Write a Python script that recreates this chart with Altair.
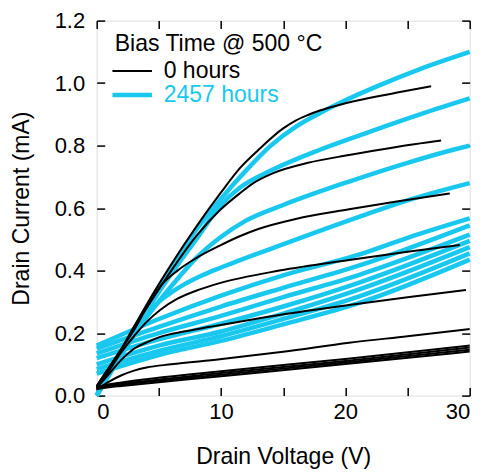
import altair as alt
import pandas as pd

# ---------------- data ----------------
series_names = ["0 hours", "2457 hours"]
series_colors = ["#000000", "#19c8ee"]

# 0 hours (black)
k1_v = [0, 1, 2, 3, 4, 6, 8, 10, 11.5, 13, 15, 16, 17, 18, 19.5, 22, 24.5, 26.9]
k1_i = [0.03, 0.09, 0.15, 0.22, 0.29, 0.42, 0.54, 0.65, 0.727, 0.786, 0.855, 0.88, 0.898, 0.913, 0.93, 0.953, 0.972, 0.99]
k2_v = [0, 1, 2, 3, 4, 6, 8, 9.9, 11.5, 12.6, 14.2, 17, 20.3, 24, 27.7]
k2_i = [0.03, 0.09, 0.15, 0.22, 0.28, 0.40, 0.51, 0.593, 0.647, 0.68, 0.712, 0.745, 0.77, 0.795, 0.816]
k3_v = [0, 1, 2, 3, 4, 5.1, 6.5, 8, 9.9, 11.5, 13, 16, 20.3, 24, 28.4]
k3_i = [0.03, 0.09, 0.15, 0.21, 0.28, 0.349, 0.40, 0.44, 0.48, 0.51, 0.533, 0.565, 0.596, 0.62, 0.647]
k4_v = [0, 1, 2, 3, 4, 5.1, 6.5, 8.3, 9.9, 14.7, 20.3, 25, 29.2]
k4_i = [0.025, 0.08, 0.14, 0.19, 0.235, 0.274, 0.31, 0.34, 0.36, 0.40, 0.434, 0.46, 0.482]
k5_v = [0, 1, 2, 3, 4, 5.1, 7, 9.1, 14.7, 20.3, 25, 29.7]
k5_i = [0.025, 0.07, 0.115, 0.15, 0.17, 0.188, 0.205, 0.22, 0.258, 0.29, 0.315, 0.338]
k6_v = [0, 1, 2, 3, 4, 6, 9.9, 15, 20.3, 25, 30]
k6_i = [0.02, 0.045, 0.065, 0.08, 0.09, 0.10, 0.116, 0.14, 0.169, 0.19, 0.213]
k7_v = [0, 1, 2, 10, 20, 30]
k7_i = [0.026, 0.036, 0.042, 0.078, 0.117, 0.160]
k8_v = [0, 1, 2, 10, 20, 30]
k8_i = [0.025, 0.033, 0.038, 0.072, 0.111, 0.154]
k9_v = [0, 1, 2, 10, 20, 30]
k9_i = [0.023, 0.030, 0.035, 0.067, 0.106, 0.147]
k10_v = [0, 1, 2, 10, 20, 30]
k10_i = [0.021, 0.027, 0.031, 0.062, 0.101, 0.141]

# 2457 hours (cyan)
c1_v = [0, 2, 4, 6, 8, 10, 12, 14, 16, 18, 20, 22.2, 26, 30]
c1_i = [0.0, 0.14, 0.28, 0.41, 0.53, 0.63, 0.72, 0.80, 0.86, 0.905, 0.945, 0.984, 1.045, 1.10]
c2_v = [0, 2, 4, 6, 8, 10, 11.5, 14, 17.9, 22, 26, 30]
c2_i = [0.0, 0.14, 0.27, 0.39, 0.50, 0.61, 0.665, 0.72, 0.786, 0.845, 0.90, 0.951]
c3_v = [0, 2, 4, 6, 8, 9.9, 12, 15, 20.3, 25, 28.6, 30]
c3_i = [0.0, 0.13, 0.25, 0.35, 0.44, 0.505, 0.56, 0.61, 0.685, 0.745, 0.786, 0.80]
c4_v = [0, 1, 2, 3, 4, 5, 6, 7, 8.5, 10, 14.7, 21.1, 25, 30]
c4_i = [0.0, 0.075, 0.145, 0.21, 0.26, 0.30, 0.33, 0.355, 0.385, 0.41, 0.48, 0.572, 0.625, 0.68]
c5_v = [0, 5, 10, 15, 21, 25, 30]
c5_i = [0.16, 0.245, 0.32, 0.385, 0.45, 0.505, 0.567]
c6_v = [0, 5, 10, 15, 21, 30]
c6_i = [0.15, 0.22, 0.285, 0.345, 0.415, 0.545]
c7_v = [0, 5, 10, 15, 21, 30]
c7_i = [0.135, 0.20, 0.255, 0.315, 0.385, 0.515]
c8_v = [0, 5, 10, 15, 21, 30]
c8_i = [0.12, 0.18, 0.23, 0.285, 0.36, 0.495]
c9_v = [0, 5, 10, 15, 21, 30]
c9_i = [0.10, 0.16, 0.205, 0.262, 0.338, 0.475]
c10_v = [0, 5, 10, 15, 21, 30]
c10_i = [0.085, 0.143, 0.19, 0.245, 0.316, 0.455]
c11_v = [0, 5, 10, 15, 21, 30]
c11_i = [0.07, 0.13, 0.175, 0.228, 0.295, 0.435]

x_ticks = [0, 5, 10, 15, 20, 25, 30]
y_ticks = [0.0, 0.2, 0.4, 0.6, 0.8, 1.0, 1.2]

black_curves = [(k1_v, k1_i), (k2_v, k2_i), (k3_v, k3_i), (k4_v, k4_i), (k5_v, k5_i),
                (k6_v, k6_i), (k7_v, k7_i), (k8_v, k8_i), (k9_v, k9_i), (k10_v, k10_i)]
cyan_curves = [(c1_v, c1_i), (c2_v, c2_i), (c3_v, c3_i), (c4_v, c4_i), (c5_v, c5_i),
               (c6_v, c6_i), (c7_v, c7_i), (c8_v, c8_i), (c9_v, c9_i), (c10_v, c10_i),
               (c11_v, c11_i)]


def build(curves, name, prefix):
    rows = []
    for n, (vs, cs) in enumerate(curves):
        for k, (v, c) in enumerate(zip(vs, cs)):
            rows.append({"V": v, "I": c, "series": name, "curve": f"{prefix}{n}", "k": k})
    return pd.DataFrame(rows)


df_black = build(black_curves, series_names[0], "k")
df_cyan = build(cyan_curves, series_names[1], "c")

FONT = "Liberation Sans"

color_scale = alt.Scale(domain=series_names, range=series_colors)

x_scale = alt.Scale(domain=[0, 30], nice=False, zero=False)
y_scale = alt.Scale(domain=[0, 1.2], nice=False, zero=False)

legend = alt.Legend(
    orient="none", legendX=18, legendY=12,
    title="Bias Time @ 500 °C", titleFontSize=23, titleFontWeight="normal",
    titleColor="black", titleFont=FONT, titlePadding=4, titleLimit=500,
    labelFont=FONT, labelFontSize=23, labelOffset=20, labelLimit=500,
    labelColor={"expr": "datum.label == '0 hours' ? '#000000' : '#19c8ee'"},
    symbolType="stroke", symbolSize=1560, symbolOffset=6,
    symbolStrokeWidth={"expr": "datum.label == '0 hours' ? 2 : 4.5"},
    rowPadding=-3, padding=0,
)

cyan_layer = alt.Chart(df_cyan).mark_line(strokeWidth=4.5, strokeCap="butt", strokeJoin="round",
                                          interpolate="monotone").encode(
    x=alt.X("V:Q", scale=x_scale,
            axis=alt.Axis(title="Drain Voltage (V)", orient="bottom", values=x_ticks,
                          labelExpr="datum.value % 10 == 0 ? datum.label : ''",
                          domain=False, tickSize=8, offset=-8, tickWidth=1.5, tickColor="black",
                          labelFont=FONT, labelFontSize=22, labelColor="black", labelPadding=6,
                          titleFont=FONT, titleFontSize=23, titleFontWeight="normal",
                          titleColor="black", titlePadding=23, grid=False)),
    y=alt.Y("I:Q", scale=y_scale,
            axis=alt.Axis(title="Drain Current (mA)", orient="left", values=y_ticks, format=".1f",
                          domain=False, tickSize=8, offset=-8, tickWidth=1.5, tickColor="black",
                          labelFont=FONT, labelFontSize=22, labelColor="black", labelPadding=12,
                          titleFont=FONT, titleFontSize=23, titleFontWeight="normal",
                          titleColor="black", titlePadding=21, grid=False)),
    color=alt.Color("series:N", scale=color_scale, legend=legend),
    detail="curve:N",
    order="k:Q",
)

black_layer = alt.Chart(df_black).mark_line(strokeWidth=2, strokeJoin="round",
                                            interpolate="monotone").encode(
    x=alt.X("V:Q", scale=x_scale,
            axis=alt.Axis(title=None, orient="top", values=x_ticks, labels=False,
                          domain=False, tickSize=8, offset=-8, tickWidth=1.5, tickColor="black",
                          grid=False)),
    y=alt.Y("I:Q", scale=y_scale,
            axis=alt.Axis(title=None, orient="right", values=y_ticks, labels=False,
                          domain=False, tickSize=8, offset=-8, tickWidth=1.5, tickColor="black",
                          grid=False)),
    color=alt.Color("series:N", scale=color_scale, legend=legend),
    detail="curve:N",
    order="k:Q",
)

chart = alt.layer(cyan_layer, black_layer).resolve_axis(
    x="independent", y="independent"
).properties(
    width=373, height=375,
    autosize=alt.AutoSizeParams(type="none"),
    padding={"left": 88.7, "top": 12.6, "right": 10, "bottom": 76},
).configure_view(
    stroke="black", strokeWidth=1.5
).configure(background="white")

chart.save("out.html", embed_options={"renderer": "svg", "actions": False})
